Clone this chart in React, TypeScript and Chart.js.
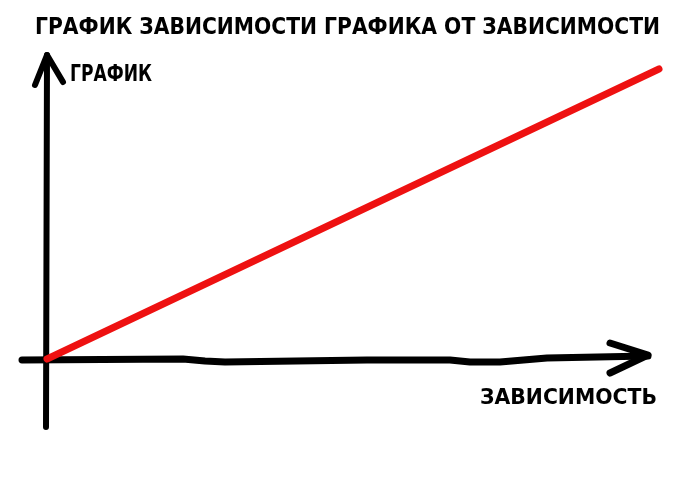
import React, { useEffect, useRef } from "react";
import { Chart, registerables } from "chart.js";

Chart.register(...registerables);

// Texts
const titleText = "ГРАФИК ЗАВИСИМОСТИ ГРАФИКА ОТ ЗАВИСИМОСТИ";
const yAxisLabel = "ГРАФИК";
const xAxisLabel = "ЗАВИСИМОСТЬ";

// Data: the red series (график vs зависимость)
const seriesX = [0, 61.2];
const seriesY = [0, 29.0];

// Hand-drawn axes (data units)
const xAxisLineX = [-2.5, 13.6, 15.8, 17.8, 32.0, 40.3, 42.3, 45.3, 50.0, 60.1];
const xAxisLineY = [-0.1, 0.0, -0.2, -0.3, -0.1, -0.1, -0.3, -0.3, 0.1, 0.3];
const xArrowX = [56.3, 60.1, 56.3];
const xArrowY = [1.6, 0.4, -1.4];
const yAxisLineX = [-0.1, 0.0];
const yAxisLineY = [-6.8, 30.4];
const yArrowX = [-1.2, 0.0, 1.6];
const yArrowY = [27.4, 30.4, 27.7];

// Scale ranges
const xMin = -4.7;
const xMax = 65.3;
const yMin = -13.1;
const yMax = 35.9;

const toPoints = (xs: number[], ys: number[]) => xs.map((x, i) => ({ x, y: ys[i] }));

function fitText(
  ctx: CanvasRenderingContext2D,
  text: string,
  left: number,
  baseline: number,
  targetWidth: number,
  size: number
) {
  ctx.save();
  ctx.font = `bold ${size}px "DejaVu Sans", sans-serif`;
  ctx.fillStyle = "#000";
  ctx.textBaseline = "alphabetic";
  ctx.textAlign = "left";
  const w = ctx.measureText(text).width;
  ctx.translate(left, baseline);
  ctx.scale(targetWidth / w, 1);
  ctx.fillText(text, 0, 0);
  ctx.restore();
}

const textPlugin = {
  id: "memeTexts",
  afterDraw(chart: any) {
    const ctx = chart.ctx as CanvasRenderingContext2D;
    fitText(ctx, titleText, 35, 34, 625, 23);
    fitText(ctx, yAxisLabel, 70, 81, 82, 23);
    fitText(ctx, xAxisLabel, 480, 404, 177, 22);
  },
};

export default function App() {
  const ref = useRef<HTMLCanvasElement | null>(null);

  useEffect(() => {
    if (!ref.current) return;
    const common = {
      showLine: true,
      pointRadius: 0,
      pointHoverRadius: 0,
      borderCapStyle: "round" as const,
      borderJoinStyle: "round" as const,
      tension: 0,
    };
    const chart = new Chart(ref.current, {
      type: "scatter",
      data: {
        datasets: [
          {
            ...common,
            label: "график",
            data: toPoints(seriesX, seriesY),
            borderColor: "#ee1111",
            borderWidth: 7,
            order: 0,
          },
          {
            ...common,
            label: "x-axis",
            data: toPoints(xAxisLineX, xAxisLineY),
            borderColor: "#000",
            borderWidth: 7,
            order: 1,
          },
          {
            ...common,
            label: "x-arrow",
            data: toPoints(xArrowX, xArrowY),
            borderColor: "#000",
            borderWidth: 7,
            order: 1,
          },
          {
            ...common,
            label: "y-axis",
            data: toPoints(yAxisLineX, yAxisLineY),
            borderColor: "#000",
            borderWidth: 6,
            order: 1,
          },
          {
            ...common,
            label: "y-arrow",
            data: toPoints(yArrowX, yArrowY),
            borderColor: "#000",
            borderWidth: 6,
            order: 1,
          },
        ],
      },
      options: {
        animation: false,
        responsive: false,
        maintainAspectRatio: false,
        devicePixelRatio: 1,
        layout: { padding: 0 },
        plugins: {
          legend: { display: false },
          title: { display: false },
          tooltip: { enabled: false },
        },
        scales: {
          x: { type: "linear", display: false, min: xMin, max: xMax },
          y: { type: "linear", display: false, min: yMin, max: yMax },
        },
      },
      plugins: [textPlugin],
    });
    return () => chart.destroy();
  }, []);

  return (
    <div
      style={{
        position: "absolute",
        left: 0,
        top: 0,
        width: 700,
        height: 490,
        background: "#fff",
      }}
    >
      <canvas ref={ref} width={700} height={490} style={{ width: 700, height: 490 }} />
    </div>
  );
}
